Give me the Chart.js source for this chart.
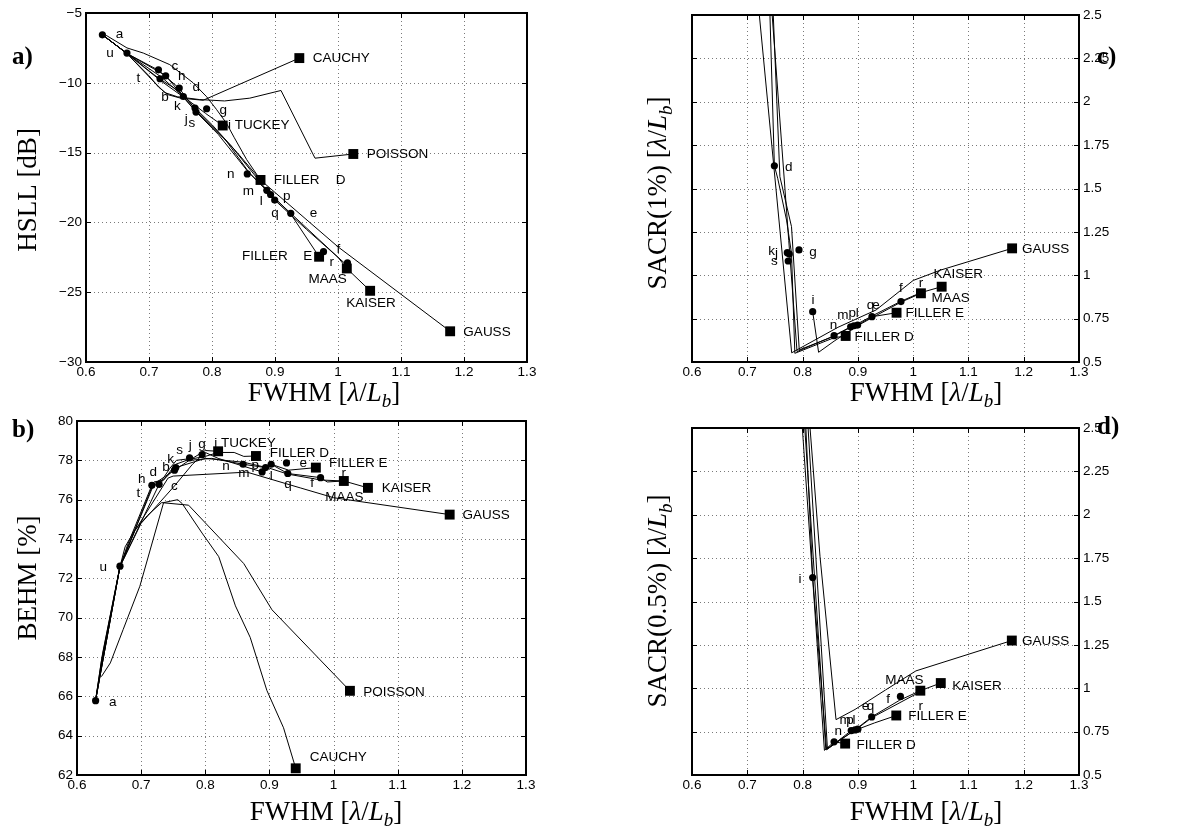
<!DOCTYPE html>
<html>
<head>
<meta charset="utf-8">
<title>Window comparison</title>
<script src="https://cdn.jsdelivr.net/npm/chart.js@4.4.1/dist/chart.umd.min.js"></script>
<style>
  body { margin: 0; background: #fff; }
  #wrap { position: relative; width: 1194px; height: 829px; overflow: hidden; }
  canvas { position: absolute; }
</style>
</head>
<body>
<div id="wrap">
  <canvas id="pa" width="560" height="412" style="left:0;top:0"></canvas>
  <canvas id="pb" width="560" height="429" style="left:0;top:400px"></canvas>
  <canvas id="pc" width="594" height="412" style="left:600px;top:0"></canvas>
  <canvas id="pd" width="594" height="429" style="left:600px;top:400px"></canvas>
</div>
<script>
// axis ranges [min, max, step]
const fwhmRange = [0.6, 1.3, 0.1];
const hsllRange = [-30, -5, 5];
const behmRange = [62, 80, 2];
const sacrRange = [0.5, 2.5, 0.25];

// ---- a) HSLL vs FWHM ----
const hsllCurves = [
  [[0.632,-6.6],[0.665,-7.5],[0.691,-7.87],[0.733,-8.7],[0.770,-10.0],[0.7915,-11.0],[0.807,-11.9],[0.823,-12.9],[0.835,-13.9],[0.855,-15.5],[0.877,-16.96],[1.0,-21.75],[1.178,-27.8]],
  [[0.626,-6.56],[0.665,-7.9],[0.70,-9.5],[0.715,-10.3],[0.73,-10.85],[0.75,-11.1],[0.786,-11.25],[0.9386,-8.23]],
  [[0.626,-6.56],[0.665,-7.9],[0.705,-9.8],[0.725,-10.7],[0.745,-11.0],[0.78,-11.2],[0.82,-11.3],[0.86,-11.1],[0.9095,-10.55],[0.9635,-15.4],[1.0243,-15.1]],
  [[0.626,-6.56],[0.665,-7.9],[0.72,-9.6],[0.755,-11.0],[0.79,-12.2],[0.817,-13.06]],
  [[0.626,-6.56],[0.665,-7.9],[0.716,-9.7],[0.748,-10.6],[0.773,-11.8],[0.80,-13.0],[0.84,-15.0],[0.877,-16.96]],
  [[0.626,-6.56],[0.665,-7.9],[0.72,-9.9],[0.754,-11.0],[0.775,-12.1],[0.81,-13.7],[0.856,-16.3],[0.887,-17.7],[0.925,-19.4],[0.970,-22.46]],
  [[0.626,-6.56],[0.665,-7.9],[0.727,-9.5],[0.754,-11.0],[0.774,-12.0],[0.82,-14.0],[0.86,-16.5],[0.893,-18.0],[0.925,-19.35],[1.0,-22.5],[1.014,-23.3]],
  [[0.626,-6.56],[0.665,-7.9],[0.715,-9.1],[0.748,-10.4],[0.775,-12.0],[0.83,-14.5],[0.8995,-18.4],[0.95,-20.5],[1.01,-22.9],[1.014,-23.3],[1.051,-24.9]]
];
const hsllDots = [[0.626,-6.56],[0.665,-7.87],[0.715,-9.07],[0.7175,-9.71],[0.7265,-9.5],[0.748,-10.38],[0.7545,-10.98],[0.773,-11.81],[0.7746,-12.1],[0.7915,-11.86],[0.856,-16.53],[0.887,-17.7],[0.893,-18.0],[0.8995,-18.4],[0.925,-19.35],[0.977,-22.1],[1.015,-22.9]];
const hsllSquares = [[0.9386,-8.23],[0.817,-13.06],[1.0243,-15.1],[0.877,-16.96],[0.970,-22.46],[1.014,-23.3],[1.051,-24.9],[1.178,-27.8]];
const hsllLabels = [
  ['a',0.653,-6.56],['u',0.638,-7.87],['t',0.683,-9.71],['c',0.741,-8.83],['h',0.752,-9.55],['d',0.775,-10.34],
  ['b',0.7254,-11.05],['k',0.745,-11.7],['j',0.759,-12.58],['s',0.768,-12.9],['g',0.818,-11.94],
  ['n',0.8297,-16.53],['m',0.8577,-17.75],['l',0.878,-18.5],['p',0.9186,-18.1],['q',0.9,-19.35],['e',0.961,-19.35],
  ['f',1.0005,-21.93],['r',0.99,-22.86],
  ['CAUCHY',0.96,-8.23],['i TUCKEY',0.8254,-13.06],['POISSON',1.0455,-15.1],['FILLER',0.898,-16.96],['D',1.004,-16.96],
  ['FILLER',0.8476,-22.46],['E',0.952,-22.46],['MAAS',0.953,-24.08],['KAISER',1.013,-25.76],['GAUSS',1.199,-27.86]
];

// ---- b) BEHM vs FWHM ----
const behmCurves = [
  [[0.629,65.8],[0.64,68],[0.667,72.6],[0.69,74.4],[0.742,77.1],[0.75,77.2],[0.865,77.4],[0.948,76.6],[1.0,76.1],[1.181,75.24]],
  [[0.638,67.0],[0.652,67.7],[0.672,69.4],[0.698,71.6],[0.735,75.85],[0.757,76.0],[0.764,75.8],[0.795,74.3],[0.821,73.1],[0.847,70.6],[0.870,69.0],[0.896,66.3],[0.922,64.4],[0.941,62.34]],
  [[0.629,65.8],[0.638,67.5],[0.667,72.6],[0.675,73.6],[0.69,74.45],[0.71,75.2],[0.732,75.85],[0.774,75.72],[0.86,72.75],[0.904,70.4],[1.0255,66.28]],
  [[0.629,65.8],[0.638,67.8],[0.667,72.6],[0.68,73.8],[0.7167,76.73],[0.728,76.78],[0.745,77.6],[0.755,78.0],[0.78,78.1],[0.80,78.5],[0.82,78.46]],
  [[0.629,65.8],[0.64,68.2],[0.667,72.6],[0.72,76.9],[0.735,77.0],[0.754,77.8],[0.775,78.05],[0.8,78.2],[0.82,78.4],[0.845,78.4],[0.86,78.2],[0.879,78.22]],
  [[0.629,65.8],[0.667,72.6],[0.72,76.8],[0.752,77.5],[0.775,78.0],[0.81,78.1],[0.859,77.8],[0.894,77.63],[0.9027,77.8],[0.93,77.5],[0.9724,77.63]],
  [[0.629,65.8],[0.667,72.6],[0.70,74.8],[0.752,76.7],[0.78,77.8],[0.80,78.4],[0.82,78.1],[0.8886,77.41],[0.9027,77.8],[0.9286,77.33],[0.9797,77.12],[0.99,76.9],[1.016,76.95]],
  [[0.629,65.8],[0.667,72.6],[0.728,76.78],[0.754,77.63],[0.8,78.1],[0.86,77.9],[0.9,77.6],[0.9286,77.3],[0.98,77.0],[1.016,76.95],[1.0536,76.6]]
];
const behmDots = [[0.629,65.78],[0.667,72.62],[0.7167,76.73],[0.728,76.78],[0.752,77.5],[0.754,77.63],[0.7755,78.12],[0.795,78.29],[0.859,77.8],[0.8886,77.41],[0.894,77.63],[0.9027,77.8],[0.9266,77.87],[0.9286,77.33],[0.9797,77.12]];
const behmSquares = [[0.82,78.46],[0.879,78.22],[0.9724,77.63],[1.016,76.95],[1.0536,76.6],[1.181,75.24],[1.0255,66.28],[0.941,62.34]];
const behmLabels = [
  ['a',0.6558,65.72],['u',0.641,72.58],['t',0.6958,76.31],['h',0.701,77.02],['d',0.719,77.41],['b',0.7386,77.63],
  ['k',0.746,78.04],['s',0.76,78.51],['j',0.7766,78.77],['g',0.795,78.82],['c',0.752,76.68],
  ['n',0.8323,77.7],['m',0.86,77.33],['p',0.878,77.75],['l',0.9027,77.19],['e',0.9526,77.83],['q',0.929,76.78],
  ['f',0.9667,76.85],['r',1.016,77.36],
  ['i TUCKEY',0.814,78.88],['FILLER D',0.9005,78.34],['FILLER E',0.9927,77.83],['MAAS',0.987,76.1],
  ['KAISER',1.075,76.56],['GAUSS',1.201,75.21],['POISSON',1.0464,66.23],['CAUCHY',0.963,62.9]
];

// ---- c) SACR(1%) vs FWHM ----
const sacr1Curves = [
  [[0.7218,2.5],[0.7803,0.553],[0.864,0.70],[0.933,0.80],[1.0,0.97],[1.05,1.03],[1.179,1.155]],
  [[0.741,2.5],[0.749,1.631],[0.755,1.559],[0.771,1.318],[0.780,1.126],[0.786,0.55],[0.857,0.64],[0.878,0.65]],
  [[0.747,2.5],[0.759,1.568],[0.780,1.28],[0.794,0.57],[0.85,0.64],[0.887,0.703],[0.8996,0.713],[0.9255,0.761],[0.970,0.784]],
  [[0.8183,0.79],[0.829,0.556],[0.857,0.62],[0.9,0.71],[0.9255,0.755],[0.978,0.845],[1.0141,0.896]],
  [[0.745,2.5],[0.775,1.2],[0.79,0.56],[0.86,0.655],[0.893,0.709],[0.9255,0.765],[0.978,0.85],[1.0141,0.9],[1.0516,0.934]]
];
const sacr1Dots = [[0.749,1.631],[0.7724,1.13],[0.776,1.122],[0.774,1.082],[0.7935,1.146],[0.8183,0.79],[0.857,0.652],[0.887,0.703],[0.893,0.709],[0.8996,0.713],[0.9255,0.761],[0.978,0.848]];
const sacr1Squares = [[0.878,0.650],[0.970,0.784],[1.0141,0.896],[1.0516,0.934],[1.179,1.155]];
const sacr1Labels = [
  ['d',0.775,1.625],['k',0.744,1.14],['j',0.753,1.125],['s',0.749,1.081],['g',0.819,1.135],['i',0.819,0.856],
  ['n',0.856,0.711],['m',0.873,0.769],['p',0.89,0.779],['l',0.899,0.779],['q',0.923,0.827],['e',0.933,0.827],
  ['f',0.978,0.923],['r',1.014,0.956],
  ['KAISER',1.037,1.006],['MAAS',1.033,0.865],['FILLER E',0.986,0.779],['FILLER D',0.894,0.644],['GAUSS',1.197,1.148]
];

// ---- d) SACR(0.5%) vs FWHM ----
const sacr05Curves = [
  [[0.7996,2.5],[0.8395,0.642],[0.857,0.691],[0.877,0.681]],
  [[0.806,2.5],[0.8183,1.638],[0.8435,0.645],[0.888,0.756],[0.9,0.764],[0.93,0.80],[0.9695,0.843]],
  [[0.8135,2.5],[0.8315,1.76],[0.8605,0.819],[0.895,0.878],[0.95,0.99],[1.005,1.10],[1.1785,1.275]],
  [[0.81,2.5],[0.845,0.65],[0.895,0.76],[0.925,0.835],[0.975,0.93],[1.013,0.986],[1.05,1.03]],
  [[0.804,2.5],[0.842,0.648],[0.9,0.77],[0.925,0.83],[1.013,0.98]]
];
const sacr05Dots = [[0.8183,1.638],[0.857,0.691],[0.888,0.756],[0.895,0.76],[0.9,0.764],[0.925,0.835],[0.977,0.953]];
const sacr05Squares = [[0.877,0.681],[0.9695,0.843],[1.013,0.986],[1.05,1.03],[1.1785,1.275]];
const sacr05Labels = [
  ['i',0.7954,1.629],['n',0.8646,0.75],['m',0.877,0.817],['p',0.886,0.817],['l',0.893,0.817],
  ['e',0.914,0.894],['q',0.923,0.894],['f',0.9548,0.938],['r',1.0137,0.894],
  ['MAAS',0.9495,1.044],['KAISER',1.0708,1.013],['FILLER E',0.991,0.84],['FILLER D',0.8977,0.673],['GAUSS',1.197,1.269]
];

const fwhmTitle = [['FWHM [','r'],['\u03bb','i'],['/','r'],['L','i'],['b','s'],[']','r']];

function tickFmt(v) {
  return String(+v.toFixed(2)).replace('-', '\u2212');
}

function drawRich(ctx, parts, cx, cy, size, rotate) {
  const fam = '"Liberation Serif", serif';
  const fontOf = k => k === 'r' ? size + 'px ' + fam
    : k === 'i' ? 'italic ' + size + 'px ' + fam
    : 'italic ' + Math.round(size * 0.7) + 'px ' + fam;
  let w = 0;
  parts.forEach(([t, k]) => { ctx.font = fontOf(k); w += ctx.measureText(t).width; });
  ctx.save();
  ctx.translate(cx, cy);
  if (rotate) ctx.rotate(-Math.PI / 2);
  ctx.textAlign = 'left';
  ctx.textBaseline = 'alphabetic';
  ctx.fillStyle = '#000';
  let xx = -w / 2;
  const base = size * 0.33;
  parts.forEach(([t, k]) => {
    ctx.font = fontOf(k);
    ctx.fillText(t, xx, k === 's' ? base + size * 0.22 : base);
    xx += ctx.measureText(t).width;
  });
  ctx.restore();
}

function decor(p) {
  return {
    id: 'decor',
    beforeDatasetsDraw(chart) {
      const { ctx, chartArea: a, scales: { x, y } } = chart;
      ctx.save();
      ctx.strokeStyle = '#7a7a7a';
      ctx.lineWidth = 1;
      ctx.setLineDash([1, 3]);
      x.ticks.forEach(t => {
        const px = Math.round(x.getPixelForValue(t.value)) + 0.5;
        if (px <= a.left + 2 || px >= a.right - 2) return;
        ctx.beginPath(); ctx.moveTo(px, a.top); ctx.lineTo(px, a.bottom); ctx.stroke();
      });
      y.ticks.forEach(t => {
        const py = Math.round(y.getPixelForValue(t.value)) + 0.5;
        if (py <= a.top + 2 || py >= a.bottom - 2) return;
        ctx.beginPath(); ctx.moveTo(a.left, py); ctx.lineTo(a.right, py); ctx.stroke();
      });
      ctx.restore();
    },
    afterDatasetsDraw(chart) {
      const { ctx, scales: { x, y } } = chart;
      ctx.save();
      ctx.fillStyle = '#000';
      ctx.font = '13.5px "Liberation Sans", Arial, sans-serif';
      ctx.textBaseline = 'middle';
      p.labels.forEach(([t, lx, ly]) => {
        ctx.textAlign = t.length === 1 ? 'center' : 'left';
        ctx.fillText(t, x.getPixelForValue(lx), y.getPixelForValue(ly));
      });
      ctx.restore();
    },
    afterDraw(chart) {
      const { ctx, chartArea: a, scales: { x, y } } = chart;
      ctx.save();
      ctx.strokeStyle = '#000';
      ctx.lineWidth = 1;
      ctx.beginPath();
      x.ticks.forEach(t => {
        const px = Math.round(x.getPixelForValue(t.value)) + 0.5;
        ctx.moveTo(px, a.bottom); ctx.lineTo(px, a.bottom - 5);
        ctx.moveTo(px, a.top); ctx.lineTo(px, a.top + 5);
      });
      y.ticks.forEach(t => {
        const py = Math.round(y.getPixelForValue(t.value)) + 0.5;
        ctx.moveTo(a.left, py); ctx.lineTo(a.left + 5, py);
        ctx.moveTo(a.right, py); ctx.lineTo(a.right - 5, py);
      });
      ctx.stroke();
      ctx.lineWidth = 2;
      ctx.strokeRect(a.left, a.top, a.right - a.left, a.bottom - a.top);
      ctx.restore();

      drawRich(ctx, fwhmTitle, p.xTitle[0], p.xTitle[1], 27, false);
      drawRich(ctx, p.yParts, p.yTitle[0], p.yTitle[1], 27, true);

      ctx.save();
      ctx.fillStyle = '#000';
      ctx.font = 'bold 25px "Liberation Serif", serif';
      ctx.textAlign = 'left';
      ctx.textBaseline = 'middle';
      ctx.fillText(p.letter, p.letterPos[0], p.letterPos[1]);
      ctx.restore();
    }
  };
}

function makePanel(p) {
  const pts = arr => arr.map(q => ({ x: q[0], y: q[1] }));
  const datasets = p.curves.map(c => ({
    data: pts(c), showLine: true, borderColor: '#000', borderWidth: 1,
    pointRadius: 0, pointHoverRadius: 0, tension: 0
  }));
  datasets.push({ data: pts(p.dots), pointStyle: 'circle', pointRadius: 3.6,
    backgroundColor: '#000', borderColor: '#000', borderWidth: 0, showLine: false });
  datasets.push({ data: pts(p.squares), pointStyle: 'rect', pointRadius: 7,
    backgroundColor: '#000', borderColor: '#000', borderWidth: 0, showLine: false });

  const tickFont = { family: '"Liberation Sans", Arial, sans-serif', size: 13.5 };
  new Chart(document.getElementById(p.id), {
    type: 'scatter',
    data: { datasets },
    options: {
      responsive: false,
      animation: false,
      events: [],
      layout: { padding: p.pad },
      plugins: { legend: { display: false }, tooltip: { enabled: false } },
      scales: {
        x: {
          type: 'linear', min: fwhmRange[0], max: fwhmRange[1],
          grid: { display: false, drawTicks: false, tickLength: 0 },
          border: { display: false },
          ticks: { stepSize: fwhmRange[2], autoSkip: false, maxRotation: 0, padding: 2,
            color: '#000', font: tickFont, callback: tickFmt },
          afterFit: s => { s.height = p.xH; }
        },
        y: {
          type: 'linear', position: p.yPos, min: p.yRange[0], max: p.yRange[1],
          grid: { display: false, drawTicks: false, tickLength: 0 },
          border: { display: false },
          ticks: { stepSize: p.yRange[2], autoSkip: false, padding: 4,
            color: '#000', font: tickFont, callback: tickFmt },
          afterFit: s => { s.width = p.yW; }
        }
      }
    },
    plugins: [decor(p)]
  });
}

makePanel({
  id: 'pa', curves: hsllCurves, dots: hsllDots, squares: hsllSquares, labels: hsllLabels,
  yRange: hsllRange, yPos: 'left', pad: { top: 13, right: 33, left: 0, bottom: 0 }, xH: 50, yW: 86,
  xTitle: [324, 392], yTitle: [27, 190], yParts: [['HSLL [dB]', 'r']],
  letter: 'a)', letterPos: [12, 58]
});
makePanel({
  id: 'pb', curves: behmCurves, dots: behmDots, squares: behmSquares, labels: behmLabels,
  yRange: behmRange, yPos: 'left', pad: { top: 21, right: 34, left: 0, bottom: 0 }, xH: 54, yW: 77,
  xTitle: [326, 411], yTitle: [27, 178], yParts: [['BEHM [%]', 'r']],
  letter: 'b)', letterPos: [12, 31]
});
makePanel({
  id: 'pc', curves: sacr1Curves, dots: sacr1Dots, squares: sacr1Squares, labels: sacr1Labels,
  yRange: sacrRange, yPos: 'right', pad: { top: 15, right: 0, left: 92, bottom: 0 }, xH: 50, yW: 115,
  xTitle: [326, 392], yTitle: [57, 193],
  yParts: [['SACR(1%) [','r'],['\u03bb','i'],['/','r'],['L','i'],['b','s'],[']','r']],
  letter: 'c)', letterPos: [497, 58]
});
makePanel({
  id: 'pd', curves: sacr05Curves, dots: sacr05Dots, squares: sacr05Squares, labels: sacr05Labels,
  yRange: sacrRange, yPos: 'right', pad: { top: 28, right: 0, left: 92, bottom: 0 }, xH: 54, yW: 115,
  xTitle: [326, 411], yTitle: [57, 201],
  yParts: [['SACR(0.5%) [','r'],['\u03bb','i'],['/','r'],['L','i'],['b','s'],[']','r']],
  letter: 'd)', letterPos: [497, 28]
});
</script>
</body>
</html>
